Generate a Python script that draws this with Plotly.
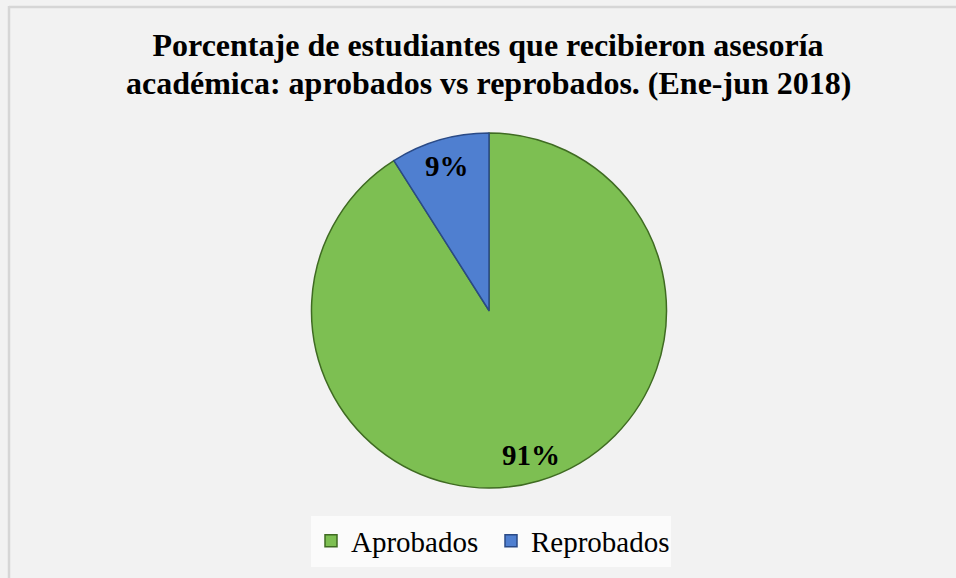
import math
import plotly.graph_objects as go

labels = ["Aprobados", "Reprobados"]
values = [91, 9]
colors = ["#7dbf52", "#4f7fd0"]
line_colors = ["#3f6b22", "#2a4a86"]
title_lines = [
    "Porcentaje de estudiantes que recibieron asesoría",
    "académica: aprobados vs reprobados. (Ene-jun 2018)",
]

W, H = 956, 578
# pie domain in pixels
px0, px1 = 311, 667
py0, py1 = 133, 488
dom_x = [px0 / W, px1 / W]
dom_y = [1 - py1 / H, 1 - py0 / H]

fig = go.Figure()
fig.add_trace(go.Pie(
    labels=labels,
    values=values,
    sort=False,
    direction="clockwise",
    rotation=0,
    textinfo="none",
    marker=dict(colors=colors, line=dict(color=line_colors, width=1.5)),
    domain=dict(x=dom_x, y=dom_y),
    hoverinfo="label+percent",
))

# data labels placed along each slice's mid-angle (Excel "best fit" style)
cx = (dom_x[0] + dom_x[1]) / 2
cy = (dom_y[0] + dom_y[1]) / 2
rx = (dom_x[1] - dom_x[0]) / 2
ry = (dom_y[1] - dom_y[0]) / 2
total = sum(values)
annotations = []
cum = 0.0
for v in values:
    mid = (cum + v / 2) / total * 2 * math.pi
    cum += v
    f = 0.85
    annotations.append(dict(
        x=cx + f * rx * math.sin(mid),
        y=cy + f * ry * math.cos(mid),
        xref="paper", yref="paper",
        text="<b>%d%%</b>" % round(100 * v / total),
        showarrow=False,
        font=dict(family="Liberation Serif", size=29, color="black"),
        xanchor="center", yanchor="middle",
    ))

# second title line (Excel uses tighter line spacing than Plotly)
annotations.append(dict(
    x=488 / W, y=1 - 83 / H, xref="paper", yref="paper",
    text="<b>" + title_lines[1] + "</b>", showarrow=False,
    font=dict(family="Liberation Serif", size=32, color="black"),
    xanchor="center", yanchor="middle",
))

fig.update_layout(
    width=W, height=H,
    margin=dict(l=0, r=0, t=0, b=0),
    paper_bgcolor="#f2f2f2",
    plot_bgcolor="#f2f2f2",
    title=dict(
        text="<b>" + title_lines[0] + "</b>",
        x=488 / W, xanchor="center",
        y=1 - 45 / H, yanchor="middle",
        font=dict(family="Liberation Serif", size=32, color="black"),
    ),
    legend=dict(
        orientation="h",
        x=491 / W, xanchor="center",
        y=1 - 541 / H, yanchor="middle",
        bgcolor="#fbfbfb",
        font=dict(family="Liberation Serif", size=29, color="black"),
        itemwidth=30,
        entrywidth=135,
        traceorder="normal",
    ),
    annotations=annotations,
    shapes=[
        dict(type="line", xref="paper", yref="paper",
             x0=9 / W, x1=9 / W, y0=0, y1=1 - 6 / H,
             line=dict(color="#d6d6d6", width=2.5), layer="above"),
        dict(type="line", xref="paper", yref="paper",
             x0=9 / W, x1=1, y0=1 - 7 / H, y1=1 - 7 / H,
             line=dict(color="#d6d6d6", width=2.5), layer="above"),
    ],
)

fig.write_html(
    "out.html",
    config={"displayModeBar": False},
    post_script="document.body.style.margin='0';document.body.style.overflow='hidden';",
)
